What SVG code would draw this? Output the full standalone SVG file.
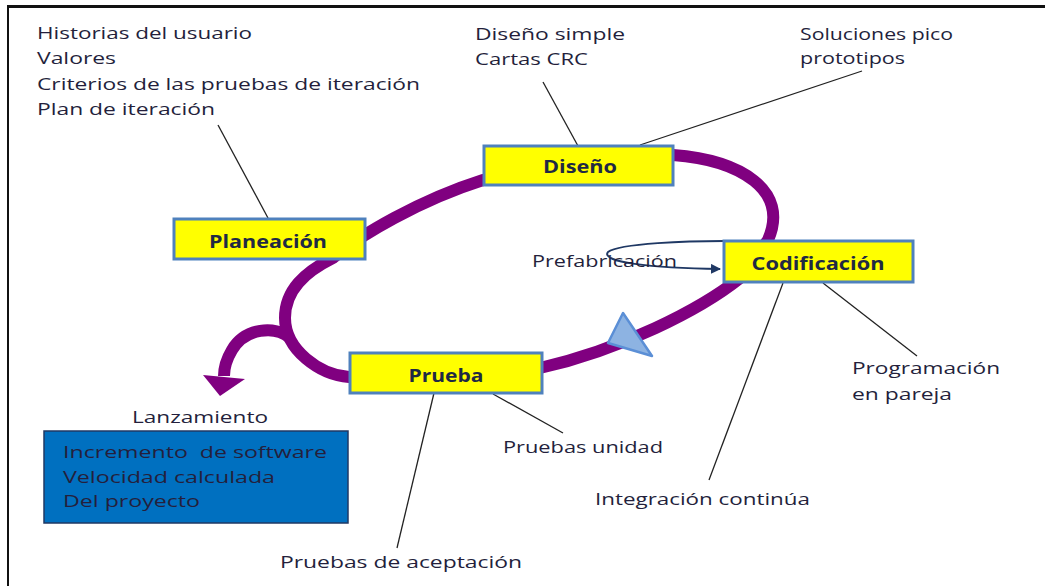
<svg xmlns="http://www.w3.org/2000/svg" width="1045" height="586" viewBox="0 0 1045 586">
<style>
.lbl{font-family:"Open Sans","Liberation Sans",sans-serif;font-size:16px;fill:#241f3c;white-space:pre}
.box{fill:#FFFF00;stroke:#4F81BD;stroke-width:3}
.bl{font-family:"Open Sans","Liberation Sans",sans-serif;font-size:17px;font-weight:bold;fill:#1f2a44;text-anchor:middle}
.lead{stroke:#222;stroke-width:1.3;fill:none}
.loop{stroke:#800080;stroke-width:12;fill:none;stroke-linejoin:round}
</style>
<defs>
<marker id="nav" viewBox="0 0 10 10" refX="9" refY="5" markerWidth="5" markerHeight="5" orient="auto" markerUnits="strokeWidth">
<path d="M0,0 L10,5 L0,10 z" fill="#1F3864"/>
</marker>
</defs>
<rect width="1045" height="586" fill="#fff"/>
<g id="frame">
<line x1="8" y1="6.5" x2="1045" y2="6.5" stroke="#111" stroke-width="3"/>
<line x1="8" y1="5" x2="8" y2="586" stroke="#111" stroke-width="2"/>
</g>
<g id="connectors">
<path class="loop" d="M333,258 C360,235 420,200 483,180 L673,155 C740,160 790,190 768,240 L740,278 C700,310 620,350 540,368 L349,377 C320,375 285,350 285,318 C285,290 305,272 333,258 Z"/>
<path class="loop" d="M290,338 C275,325 245,328 232,350 C226,360 224,368 224,376"/>
<polygon points="203,375 245,379 220,396" fill="#800080"/>
<polygon points="623,313 608,343 652,356" fill="#8DB3E2" stroke="#5B8FD6" stroke-width="2.5" stroke-linejoin="round"/>
<line class="lead" x1="268" y1="218" x2="218" y2="125"/>
<line class="lead" x1="578" y1="146" x2="543" y2="82"/>
<line class="lead" x1="640" y1="145" x2="862" y2="71"/>
<line class="lead" x1="783" y1="283" x2="709" y2="480"/>
<line class="lead" x1="823" y1="283" x2="917" y2="356"/>
<line class="lead" x1="434" y1="393" x2="397" y2="548"/>
<line class="lead" x1="493" y1="394" x2="563" y2="433"/>
<path d="M724,241 C690,241 620,243 608,252 C600,262 650,268 720,269" fill="none" stroke="#1F3864" stroke-width="2" marker-end="url(#nav)"/>
</g>
<g id="planeacion">
<rect class="box" x="174" y="219" width="191" height="40"/>
<text class="bl" x="268" y="248" textLength="118" lengthAdjust="spacingAndGlyphs">Planeación</text>
</g>
<g id="diseno">
<rect class="box" x="484" y="146" width="189" height="39"/>
<text class="bl" x="580" y="173" textLength="74" lengthAdjust="spacingAndGlyphs">Diseño</text>
</g>
<g id="codificacion">
<rect class="box" x="724" y="241" width="189" height="41"/>
<text class="bl" x="818" y="270" textLength="133" lengthAdjust="spacingAndGlyphs">Codificación</text>
</g>
<g id="prueba">
<rect class="box" x="350" y="353" width="192" height="40"/>
<text class="bl" x="446" y="382" textLength="75" lengthAdjust="spacingAndGlyphs">Prueba</text>
</g>
<g id="planeacion-notes">
<text class="lbl" x="37" y="39" textLength="215" lengthAdjust="spacingAndGlyphs">Historias del usuario</text>
<text class="lbl" x="37" y="64" textLength="79" lengthAdjust="spacingAndGlyphs">Valores</text>
<text class="lbl" x="37" y="90" textLength="383" lengthAdjust="spacingAndGlyphs">Criterios de las pruebas de iteración</text>
<text class="lbl" x="37" y="115" textLength="178" lengthAdjust="spacingAndGlyphs">Plan de iteración</text>
</g>
<g id="diseno-notes">
<text class="lbl" x="475" y="40" textLength="150" lengthAdjust="spacingAndGlyphs">Diseño simple</text>
<text class="lbl" x="475" y="65" textLength="113" lengthAdjust="spacingAndGlyphs">Cartas CRC</text>
</g>
<g id="pico-notes">
<text class="lbl" x="800" y="40" textLength="153" lengthAdjust="spacingAndGlyphs">Soluciones pico</text>
<text class="lbl" x="800" y="64" textLength="105" lengthAdjust="spacingAndGlyphs">prototipos</text>
</g>
<g id="prefabricacion">
<text class="lbl" x="532" y="267" textLength="145" lengthAdjust="spacingAndGlyphs">Prefabricación</text>
</g>
<g id="programacion">
<text class="lbl" x="852" y="374" textLength="148" lengthAdjust="spacingAndGlyphs">Programación</text>
<text class="lbl" x="852" y="400" textLength="100" lengthAdjust="spacingAndGlyphs">en pareja</text>
</g>
<g id="integracion">
<text class="lbl" x="595" y="505" textLength="215" lengthAdjust="spacingAndGlyphs">Integración continúa</text>
</g>
<g id="pruebas-unidad">
<text class="lbl" x="503" y="453" textLength="160" lengthAdjust="spacingAndGlyphs">Pruebas unidad</text>
</g>
<g id="aceptacion">
<text class="lbl" x="280" y="568" textLength="242" lengthAdjust="spacingAndGlyphs">Pruebas de aceptación</text>
</g>
<g id="lanzamiento">
<text class="lbl" x="132" y="423" textLength="136" lengthAdjust="spacingAndGlyphs">Lanzamiento</text>
<rect x="44" y="431" width="304" height="92" fill="#0070C0" stroke="#1F3864" stroke-width="1.5"/>
<text class="lbl" x="63" y="458" textLength="264" lengthAdjust="spacingAndGlyphs">Incremento&#160; de software</text>
<text class="lbl" x="63" y="483" textLength="212" lengthAdjust="spacingAndGlyphs">Velocidad calculada</text>
<text class="lbl" x="63" y="507" textLength="137" lengthAdjust="spacingAndGlyphs">Del proyecto</text>
</g>
</svg>
